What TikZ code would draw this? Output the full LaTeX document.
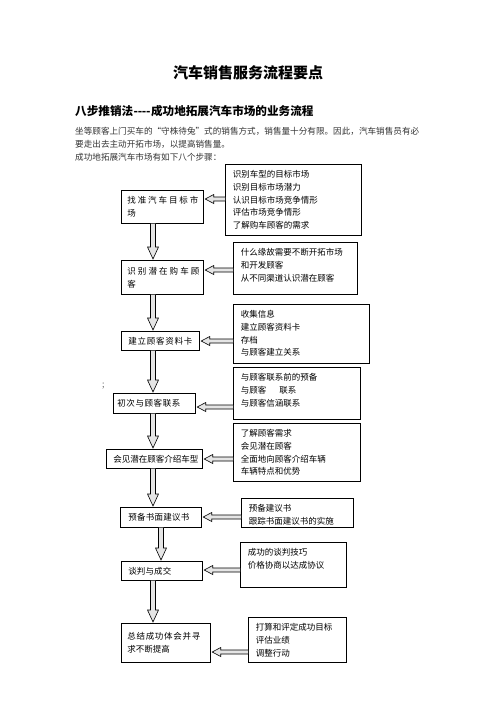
\documentclass[tikz,border=0pt]{standalone}
\usepackage{fontspec}
\setmainfont{Noto Sans CJK SC}
\usetikzlibrary{calc}
\newcommand\boxfont{\fontsize{8.5}{12.8}\selectfont}
\newcommand\varrow[3]{%
  \path (#1.south -| #3) coordinate (vs) (#2.north -| #3) coordinate (ve);
  \draw[blockarrow] let \p1=(vs), \p2=(ve) in
    (\x1-2.5pt,\y1) -- (\x1-2.5pt,\y2+13pt) -- (\x1-5.5pt,\y2+13pt) -- (\x1,\y2+1pt)
    -- (\x1+5.5pt,\y2+13pt) -- (\x1+2.5pt,\y2+13pt) -- (\x1+2.5pt,\y1);
}
\newcommand\harrow[3]{%
  \path (#1.west |- #3) coordinate (hs) (#2.east |- #3) coordinate (he);
  \draw[blockarrow] let \p1=(hs), \p2=(he) in
    (\x1,\y1+2pt) -- (\x2+10pt,\y1+2pt) -- (\x2+10pt,\y1+4.5pt) -- (\x2+1.5pt,\y1)
    -- (\x2+10pt,\y1-4.5pt) -- (\x2+10pt,\y1-2pt) -- (\x1,\y1-2pt);
}
\begin{document}
\begin{tikzpicture}[x=1pt,y=-1pt,
  lbox/.style={draw, line width=0.7pt, anchor=north west, inner ysep=0pt, align=left, font=\boxfont},
  rbox/.style={draw, line width=0.7pt, anchor=north west, inner xsep=7.5pt, inner ysep=6pt, font=\boxfont},
  blockarrow/.style={draw, line width=0.6pt, fill=black!10, line join=miter},
  para/.style={anchor=west, inner sep=0pt, font=\fontsize{8.6}{10}\selectfont, text=black!80}]
\useasboundingbox[fill=white] (0,0) rectangle (496,702);

\node[inner sep=0pt, font=\fontsize{15}{17}\selectfont\bfseries] (title) at (248,73) {汽车销售服务流程要点};
\node[anchor=west, inner sep=0pt, font=\fontsize{11.6}{13}\selectfont\bfseries] (head) at (75,111)
  {八步推销法\kern0.5pt{-}\kern-0.3pt{-}\kern-0.3pt{-}\kern-0.3pt{-}\kern0.5pt 成功地拓展汽车市场的业务流程};
\node[para] (p1) at (75,131) {坐等顾客上门买车的“守株待兔”式的销售方式，销售量十分有限。因此，汽车销售员有必};
\node[para] (p2) at (75,144) {要走出去主动开拓市场，以提高销售量。};
\node[para] (p3) at (75,157) {成功地拓展汽车市场有如下八个步骤：};
\node[para, text=black!60] (semi) at (102,386) {;};

% left boxes
\node[lbox, inner xsep=6pt, minimum width=82pt, text width=70pt, minimum height=33pt] (l1) at (121,190)
  {\hbox to 71pt{找\hfil 准\hfil 汽\hfil 车\hfil 目\hfil 标\hfil 市}\\场};
\node[lbox, inner xsep=6pt, minimum width=82pt, text width=70pt, minimum height=34pt] (l2) at (121,260)
  {\hbox to 72pt{识\hfil 别\hfil 潜\hfil 在\hfil 购\hfil 车\hfil 顾}\\客};
\node[lbox, inner xsep=7pt, minimum width=78pt, text width=64pt, minimum height=19pt] (l3) at (121,331)
  {\hbox to 64pt{建\hfil 立\hfil 顾\hfil 客\hfil 资\hfil 料\hfil 卡}};
\node[lbox, inner xsep=4pt, minimum width=82pt, text width=74pt, minimum height=20pt] (l4) at (113,393)
  {\hbox to 63pt{初\hfil 次\hfil 与\hfil 顾\hfil 客\hfil 联\hfil 系}};
\node[lbox, inner xsep=7pt, minimum width=96pt, text width=82pt, minimum height=19pt] (l5) at (106,449)
  {\hbox to 84pt{会\hfil 见\hfil 潜\hfil 在\hfil 顾\hfil 客\hfil 介\hfil 绍\hfil 车\hfil 型}};
\node[lbox, inner xsep=8pt, minimum width=81pt, text width=65pt, minimum height=20pt] (l6) at (120,507)
  {\hbox to 61pt{预\hfil 备\hfil 书\hfil 面\hfil 建\hfil 议\hfil 书}};
\node[lbox, inner xsep=7pt, minimum width=81pt, text width=67pt, minimum height=19pt] (l7) at (121,561)
  {\hbox to 43pt{谈\hfil 判\hfil 与\hfil 成\hfil 交}};
\node[lbox, inner xsep=6pt, minimum width=89pt, text width=77pt, minimum height=39pt] (l8) at (121,623)
  {\hbox to 73pt{总\hfil 结\hfil 成\hfil 功\hfil 体\hfil 会\hfil 并\hfil 寻}\\求不断提高};

% right boxes
\node[rbox] (r1) at (225,164) {\parbox[c][59pt][t]{121pt}{识别车型的目标市场\\识别目标市场潜力\\认识目标市场竞争情形\\评估市场竞争情形\\了解购车顾客的需求}};
\node[rbox] (r2) at (233,242) {\parbox[c][40pt][t]{109pt}{什么缘故需要不断开拓市场\\和开发顾客\\从不同渠道认识潜在顾客}};
\node[rbox] (r3) at (233,304) {\parbox[c][47pt][t]{121pt}{收集信息\\建立顾客资料卡\\存档\\与顾客建立关系}};
\node[rbox] (r4) at (233,367) {\parbox[c][40pt][t]{112pt}{与顾客联系前的预备\\与顾客\hspace{13pt}联系\\与顾客信涵联系}};
\node[rbox] (r5) at (233,423) {\parbox[c][46pt][t]{112pt}{了解顾客需求\\会见潜在顾客\\全面地向顾客介绍车辆\\车辆特点和优势}};
\node[rbox] (r6) at (241,498) {\parbox[c][17pt][t]{97pt}{预备建议书\\跟踪书面建议书的实施}};
\node[rbox] (r7) at (240,542) {\parbox[c][33pt][t]{91pt}{成功的谈判技巧\\价格协商以达成协议}};
\node[rbox] (r8) at (248,617) {\parbox[c][33pt][t]{83pt}{打算和评定成功目标\\评估业绩\\调整行动}};

% horizontal arrows
\harrow{r1}{l1}{0,199}
\harrow{r2}{l2}{0,270}
\harrow{r3}{l3}{0,341}
\harrow{r4}{l4}{0,407}
\harrow{r5}{l5}{0,459}
\harrow{r6}{l6}{0,517}
\harrow{r7}{l7}{0,570}
\harrow{r8}{l8}{0,652}

% vertical arrows
\varrow{l1}{l2}{153,0}
\varrow{l2}{l3}{153,0}
\varrow{l3}{l4}{153,0}
\varrow{l4}{l5}{153,0}
\varrow{l5}{l6}{153,0}
\varrow{l6}{l7}{161,0}
\varrow{l7}{l8}{153,0}
\end{tikzpicture}
\end{document}
